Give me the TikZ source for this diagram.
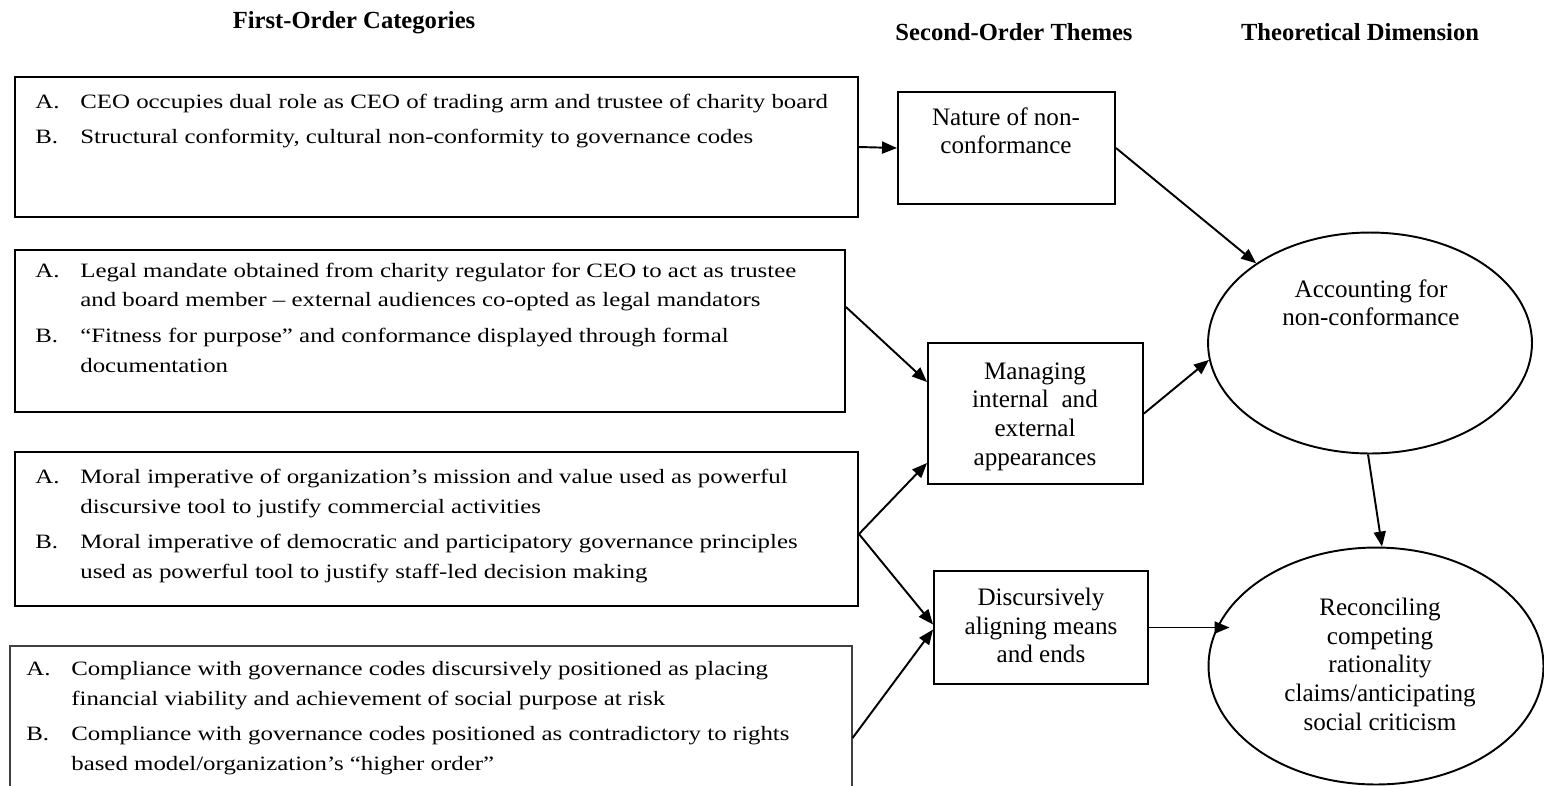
\documentclass[tikz,border=0pt]{standalone}
\usepackage{fontspec}
\setmainfont{Liberation Serif}
\newfontfamily\itemfont{Liberation Serif}[FakeStretch=1.22]
\usetikzlibrary{fit,shapes.geometric,arrows.meta,calc}
\newcommand\itm[2]{\par\hangindent=0.9cm\hangafter=1\noindent\makebox[0.9cm][l]{#1}#2\par}
\newcommand\gap{\vskip 0.12cm}
\newcommand\itemblock[1]{\parbox[t]{17cm}{\raggedright\itemfont\fontsize{11.6}{17.07}\selectfont #1}}
\newcommand\themeblock[1]{\parbox[t]{5.5cm}{\centering\fontsize{14.3}{16.5}\selectfont #1}}
\begin{document}
\begin{tikzpicture}[x=0.02cm,y=-0.02cm,
  box/.style={draw,line width=1.1pt,inner sep=0pt},
  thinbox/.style={draw=black!75,line width=0.6pt,inner sep=0pt},
  oval/.style={draw,ellipse,line width=1.1pt,inner sep=0pt},
  itemtxt/.style={anchor=base west,inner sep=0pt},
  themetxt/.style={anchor=base,inner sep=0pt},
  head/.style={anchor=base,inner sep=0pt,font=\fontsize{14}{16}\selectfont\bfseries},
  arr/.style={line width=1.1pt,-{Triangle[length=0.3cm,width=0.24cm]}}
]
\useasboundingbox (0,0) rectangle (1544,785);

% headers
\node[head] (h1) at (354,28) {First-Order Categories};
\node[head] (h2) at (1014,40) {Second-Order Themes};
\node[head] (h3) at (1360,40) {Theoretical Dimension};

% first-order boxes
\node[box,fit={(15,77) (858,217)}] (b1) {};
\node[box,fit={(15,250) (845,412)}] (b2) {};
\node[box,fit={(15,452) (858,606)}] (b3) {};
\node[thinbox,fit={(10,646) (852,800)}] (b4) {};

\node[itemtxt] (t1) at (35,108) {\itemblock{%
\itm{A.}{CEO occupies dual role as CEO of trading arm and trustee of charity board}\gap
\itm{B.}{Structural conformity, cultural non-conformity to governance codes}}};

\node[itemtxt] (t2) at (35,277) {\itemblock{%
\itm{A.}{Legal mandate obtained from charity regulator for CEO to act as trustee\newline and board member – external audiences co-opted as legal mandators}\gap
\itm{B.}{“Fitness for purpose” and conformance displayed through formal\newline documentation}}};

\node[itemtxt] (t3) at (35,483) {\itemblock{%
\itm{A.}{Moral imperative of organization’s mission and value used as powerful\newline discursive tool to justify commercial activities}\gap
\itm{B.}{Moral imperative of democratic and participatory governance principles\newline used as powerful tool to justify staff-led decision making}}};

\node[itemtxt] (t4) at (26,675) {\itemblock{%
\itm{A.}{Compliance with governance codes discursively positioned as placing\newline financial viability and achievement of social purpose at risk}\gap
\itm{B.}{Compliance with governance codes positioned as contradictory to rights\newline based model/organization’s “higher order”}}};

% second-order boxes
\node[box,fit={(898,92) (1115,204)}] (nat) {};
\node[box,fit={(928,343) (1143,484)}] (man) {};
\node[box,fit={(934,571) (1148,684)}] (dis) {};

\node[themetxt] (nt) at (1006,125) {\themeblock{Nature of non-\\conformance}};
\node[themetxt] (mt) at (1035,379) {\themeblock{Managing\\internal\enspace and\\external\\appearances}};
\node[themetxt] (dt) at (1041,605) {\themeblock{Discursively\\aligning means\\and ends}};

% dimensions
\node[oval,minimum width=6.48cm,minimum height=4.42cm] (e1) at (1370,343) {};
\node[oval,minimum width=6.7cm,minimum height=4.74cm] (e2) at (1376,666) {};
\node[themetxt] (et1) at (1371,297) {\themeblock{Accounting for\\non-conformance}};
\node[themetxt] (et2) at (1380,615) {\themeblock{Reconciling\\competing\\rationality\\claims/anticipating\\social criticism}};

% connectors
\draw[arr] (b1.east) -- (nat.west);
\draw[arr] (nat.east) -- (e1.145);
\draw[arr] ([yshift=0.48cm]b2.east) -- ([yshift=-0.8cm]man.north west);
\draw[arr] (man.east) -- (e1.186);
\draw[arr] ([yshift=-0.1cm]b3.east) -- ([yshift=0.44cm]man.south west);
\draw[arr] ([yshift=-0.1cm]b3.east) -- ([yshift=0.06cm]dis.west);
\draw[arr] (b4.north east |- 0,738) -- ([yshift=-0.04cm]dis.west);
\draw[arr] (dis.east) -- ($(dis.east -| e2.west)+(22,0)$);
\draw[arr] ([xshift=-0.04cm]e1.south) -- ([xshift=0.12cm]e2.north);
\end{tikzpicture}
\end{document}
